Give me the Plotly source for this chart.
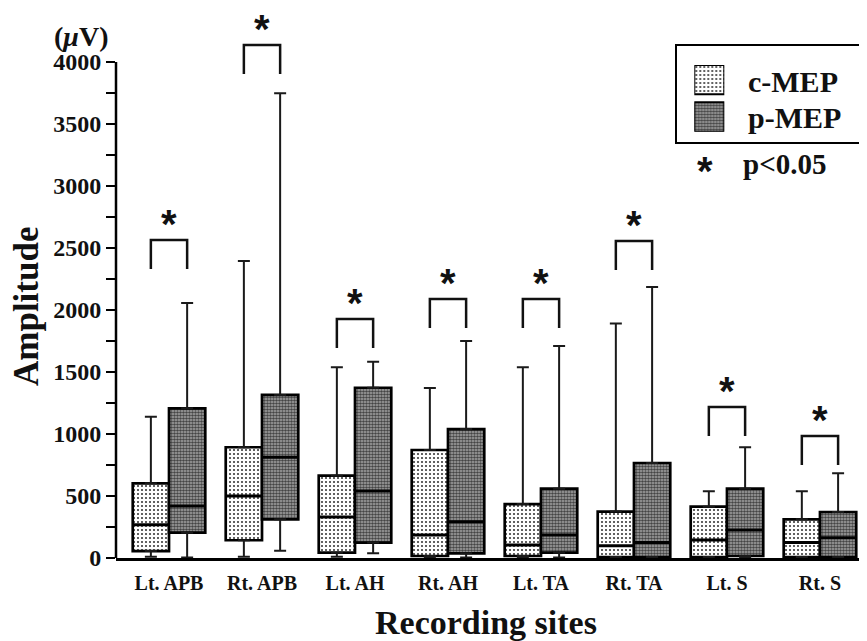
import plotly.graph_objects as go

# ---------------- data ----------------
sites = ["Lt. APB", "Rt. APB", "Lt. AH", "Rt. AH", "Lt. TA", "Rt. TA", "Lt. S", "Rt. S"]

c_lower = [10, 10, 10, 5, 5, 5, 5, 5]
c_q1 = [56, 143, 43, 16, 16, 8, 8, 8]
c_median = [269, 500, 331, 185, 105, 99, 145, 124]
c_q3 = [602, 893, 664, 871, 435, 374, 414, 312]
c_upper = [1140, 2395, 1538, 1371, 1538, 1892, 538, 538]

p_lower = [5, 59, 38, 5, 5, 5, 5, 5]
p_q1 = [204, 312, 124, 38, 43, 8, 16, 8]
p_median = [419, 812, 540, 293, 185, 124, 226, 164]
p_q3 = [1207, 1315, 1373, 1040, 559, 766, 559, 371]
p_upper = [2056, 3747, 1583, 1750, 1710, 2185, 893, 683]

# significance bracket tops (all sites p<0.05)
bracket_top = [2565, 4137, 1927, 2089, 2089, 2556, 1218, 984]

# ---------------- geometry ----------------
BODY = 8                      # page body margin of the html page
W, H = 867 - BODY, 641 - BODY
ML, MR, MT, MB = 116 - BODY, 5, 12 - BODY, 83
PW, PH = W - ML - MR, H - MT - MB
YMAX = 4000 * PH / 496.0
BOXW = 0.39
OFF = 0.195
FONT = "Liberation Serif"


def px_x(p):  # page pixel -> paper
    return (p - BODY - ML) / PW


def px_y(p):
    return (H - MB - (p - BODY)) / PH


xs = list(range(len(sites)))
xc = [x - OFF for x in xs]
xp = [x + OFF for x in xs]

C_PAT = dict(shape=".", fgcolor="#3a3a3a", bgcolor="white", size=4, solidity=0.22, fillmode="replace")
P_PAT = dict(shape=".", fgcolor="#454545", bgcolor="#ababab", size=3, solidity=0.6, fillmode="replace")

fig = go.Figure()

# boxes as patterned bars
fig.add_trace(go.Bar(
    x=xc, y=[q3 - q1 for q1, q3 in zip(c_q1, c_q3)], base=c_q1, width=BOXW,
    marker=dict(color="white", line=dict(color="black", width=2.7), pattern=C_PAT),
    showlegend=False, hoverinfo="skip"))
fig.add_trace(go.Bar(
    x=xp, y=[q3 - q1 for q1, q3 in zip(p_q1, p_q3)], base=p_q1, width=BOXW,
    marker=dict(color="#999", line=dict(color="black", width=2.7), pattern=P_PAT),
    showlegend=False, hoverinfo="skip"))

# whiskers
for xx, q1, q3, lo, up in [(xc, c_q1, c_q3, c_lower, c_upper), (xp, p_q1, p_q3, p_lower, p_upper)]:
    fig.add_trace(go.Scatter(
        x=xx, y=q3, mode="markers", marker=dict(size=1, opacity=0),
        error_y=dict(type="data", symmetric=False, array=[u - q for u, q in zip(up, q3)],
                     arrayminus=[0] * len(q3), color="#1a1a1a", thickness=2, width=6),
        showlegend=False, hoverinfo="skip"))
    fig.add_trace(go.Scatter(
        x=xx, y=q1, mode="markers", marker=dict(size=1, opacity=0),
        error_y=dict(type="data", symmetric=False, array=[0] * len(q1),
                     arrayminus=[q - l for q, l in zip(q1, lo)], color="#1a1a1a", thickness=2, width=6),
        showlegend=False, hoverinfo="skip"))

# medians
for xx, med in [(xc, c_median), (xp, p_median)]:
    mx, my = [], []
    for x, m in zip(xx, med):
        mx += [x - BOXW / 2, x + BOXW / 2, None]
        my += [m, m, None]
    fig.add_trace(go.Scatter(x=mx, y=my, mode="lines", line=dict(color="black", width=3),
                             showlegend=False, hoverinfo="skip"))

shapes = []
annotations = []
LEG = 234
STAR = dict(family="Liberation Sans", size=40, color="#111", weight="bold")
for x, top in zip(xs, bracket_top):
    shapes.append(dict(type="path", xref="x", yref="y",
                       path=f"M {x - OFF},{top - LEG} L {x - OFF},{top} L {x + OFF},{top} L {x + OFF},{top - LEG}",
                       line=dict(color="#111", width=2.5)))
    annotations.append(dict(x=x, y=top, xref="x", yref="y", text="*", showarrow=False,
                            font=STAR, yanchor="middle", yshift=16))

# y axis line only to 4000
shapes.append(dict(type="line", xref="paper", yref="y", x0=0, x1=0, y0=0, y1=4000,
                   line=dict(color="black", width=2.5)))

# legend box
shapes.append(dict(type="rect", xref="paper", yref="paper", x0=px_x(676), x1=px_x(872),
                   y0=px_y(143), y1=px_y(45), line=dict(color="black", width=2)))

# legend swatches on auxiliary axes
fig.add_trace(go.Bar(
    x=[1], y=[1], base=[0], orientation="h", width=0.787, xaxis="x2", yaxis="y2",
    marker=dict(color="white", line=dict(color="black", width=2), pattern=C_PAT),
    showlegend=False, hoverinfo="skip"))
fig.add_trace(go.Bar(
    x=[1], y=[0], base=[0], orientation="h", width=0.787, xaxis="x2", yaxis="y2",
    marker=dict(color="#999", line=dict(color="black", width=2), pattern=P_PAT),
    showlegend=False, hoverinfo="skip"))

bold = dict(family=FONT, color="#111", weight="bold")
annotations += [
    dict(x=px_x(746), y=px_y(81), xref="paper", yref="paper", text="c-MEP", showarrow=False,
         xanchor="left", yanchor="middle", font=dict(size=30, **bold)),
    dict(x=px_x(746), y=px_y(118), xref="paper", yref="paper", text="p-MEP", showarrow=False,
         xanchor="left", yanchor="middle", font=dict(size=30, **bold)),
    dict(x=px_x(741), y=px_y(164), xref="paper", yref="paper", text="p<0.05", showarrow=False,
         xanchor="left", yanchor="middle", font=dict(size=29, **bold)),
    dict(x=px_x(705), y=px_y(167), xref="paper", yref="paper", text="*", showarrow=False,
         xanchor="center", yanchor="middle", yshift=-4, font=STAR),
    dict(x=px_x(81), y=px_y(37), xref="paper", yref="paper", text="(<i>μ</i>V)", showarrow=False,
         xanchor="center", yanchor="middle", font=dict(size=28, **bold)),
    dict(x=px_x(26), y=px_y(307), xref="paper", yref="paper", text="Amplitude", showarrow=False,
         textangle=-90, xanchor="center", yanchor="middle", font=dict(size=35, **bold)),
    dict(x=px_x(486), y=px_y(622), xref="paper", yref="paper", text="Recording sites", showarrow=False,
         xanchor="center", yanchor="middle", font=dict(size=34, **bold)),
]

fig.update_layout(
    width=W, height=H,
    margin=dict(l=ML, r=MR, t=MT, b=MB, pad=0),
    plot_bgcolor="white", paper_bgcolor="white",
    barmode="overlay", showlegend=False,
    shapes=shapes, annotations=annotations,
    xaxis=dict(range=[-0.57, 7.452], tickvals=xs, ticktext=sites, showgrid=False, zeroline=False,
               showline=True, linecolor="black", linewidth=2.5, ticks="", ticklabelstandoff=5,
               tickfont=dict(size=20, **bold)),
    yaxis=dict(range=[0, YMAX], tickvals=list(range(0, 4001, 500)), showgrid=False, zeroline=False,
               showline=False, ticks="outside", ticklen=9, tickwidth=2, tickcolor="black",
               tickfont=dict(size=24, **bold),
               minor=dict(tickvals=list(range(250, 4000, 500)), ticks="outside", ticklen=9,
                          tickwidth=2, tickcolor="black", showgrid=False)),
    xaxis2=dict(domain=[px_x(694.3), px_x(724.3)], range=[0, 1], anchor="y2", visible=False,
                fixedrange=True),
    yaxis2=dict(domain=[px_y(131.7), px_y(65)], range=[-0.3933, 1.3933], anchor="x2", visible=False,
                fixedrange=True),
)

fig.write_html("out.html")
